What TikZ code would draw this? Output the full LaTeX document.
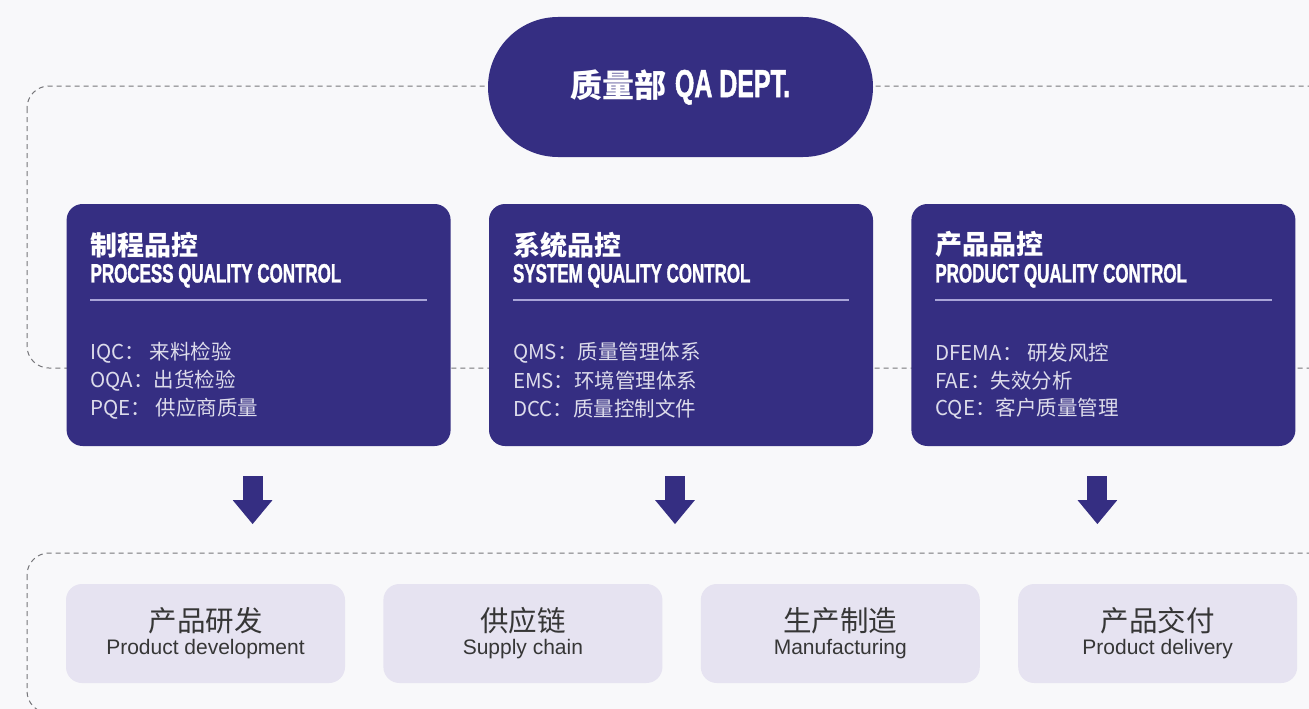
\documentclass[tikz,border=0pt]{standalone}
\usepackage{fontspec}
\setmainfont{Liberation Sans}
\newfontfamily\cjkfont{Noto Sans CJK SC}
\newfontfamily\headfont[FakeStretch=0.64, FakeBold=1.2]{Liberation Sans Bold}
\usetikzlibrary{positioning, arrows.meta}

\definecolor{navy}{HTML}{352E82}
\definecolor{lilac}{HTML}{E6E3F1}
\definecolor{rulecol}{HTML}{A9A5D8}
\definecolor{bgcol}{HTML}{F8F8FA}
\definecolor{itemcol}{HTML}{DDDCEB}
\definecolor{framecol}{HTML}{76767A}
\definecolor{labelcol}{HTML}{363636}

\begin{document}
\begin{tikzpicture}[
    x=1pt, y=-1pt,
    node distance=38pt,
    dept/.style={rectangle, rounded corners=70pt, fill=navy, text=white, minimum width=385pt, minimum height=140pt, inner sep=0pt},
    qcbox/.style={rectangle, rounded corners=16pt, fill=navy, minimum width=384pt, minimum height=242pt, inner sep=0pt},
    areabox/.style={rectangle, rounded corners=16pt, fill=lilac, minimum width=279pt, minimum height=99pt, inner sep=0pt},
    frame/.style={draw=framecol, line width=1pt, dash pattern=on 5pt off 4pt, rounded corners=22pt},
    flow/.style={navy, line width=20pt, -{Triangle[width=38pt, length=24pt]}},
    cntitle/.style={anchor=west, inner sep=0pt, text=white, font=\cjkfont\bfseries\fontsize{27}{32}\selectfont},
    entitle/.style={anchor=west, inner sep=0pt, text=white, font=\headfont\fontsize{26.5}{30}\selectfont},
    item/.style={anchor=west, inner sep=0pt, text=itemcol, font=\cjkfont\fontsize{20.5}{26}\selectfont},
    areacn/.style={inner sep=0pt, text=labelcol, font=\cjkfont\fontsize{28.5}{34}\selectfont},
    areaen/.style={inner sep=0pt, text=labelcol, font=\fontsize{21}{25}\selectfont}
]

\clip (0,0) rectangle (1309,709);
\fill[bgcol] (0,0) rectangle (1309,709);

% dashed frames
\draw[frame] (27,86) rectangle (1340,368);
\draw[frame] (27,553) rectangle (1340,713);

% department
\node[dept] (qa) at (680.5,87) {{\cjkfont\bfseries\fontsize{32}{38}\selectfont 质量部}\hspace{8pt}{\headfont\fontsize{39}{44}\selectfont QA DEPT.}};

% quality control boxes
\node[qcbox] (sys) at (681,325) {};
\node[qcbox, left=of sys] (proc) {};
\node[qcbox, right=of sys] (prod) {};

\foreach \n/\cn/\en/\ia/\ib/\ic in {
    proc/制程品控/PROCESS QUALITY CONTROL/IQC： 来料检验/OQA：出货检验/PQE： 供应商质量,
    sys/系统品控/SYSTEM QUALITY CONTROL/QMS：质量管理体系/EMS：环境管理体系/DCC：质量控制文件,
    prod/产品品控/PRODUCT QUALITY CONTROL/DFEMA： 研发风控/FAE：失效分析/CQE：客户质量管理} {
  \node[cntitle] (\n-cn) at ([xshift=24pt, yshift=-41pt]\n.north west) {\cn};
  \node[entitle] (\n-en) at ([xshift=24pt, yshift=-72pt]\n.north west) {\en};
  \draw[rulecol, line width=1.6pt] ([xshift=24pt, yshift=-96pt]\n.north west) -- ([xshift=-24pt, yshift=-96pt]\n.north east);
  \node[item] (\n-a) at ([xshift=24pt, yshift=-149pt]\n.north west) {\ia};
  \node[item] (\n-b) at ([xshift=24pt, yshift=-177pt]\n.north west) {\ib};
  \node[item] (\n-c) at ([xshift=24pt, yshift=-205pt]\n.north west) {\ic};
  \coordinate (\n-top) at ([xshift=-6pt, yshift=-30pt]\n.south);
  \coordinate (\n-tip) at ([xshift=-6pt, yshift=-78pt]\n.south);
  \draw[flow] (\n-top) -- (\n-tip);
}

% business areas
\node[areabox] (rd) at (205.5,633.5) {};
\node[areabox, right=of rd] (supply) {};
\node[areabox, right=of supply] (mfg) {};
\node[areabox, right=of mfg] (deliv) {};

\foreach \n/\cn/\en in {rd/产品研发/Product development, supply/供应链/Supply chain, mfg/生产制造/Manufacturing, deliv/产品交付/Product delivery} {
  \node[areacn] (\n-cn) at ([yshift=12.5pt]\n.center) {\cn};
  \node[areaen] (\n-en) at ([yshift=-16pt]\n.center) {\en};
}

\end{tikzpicture}
\end{document}
